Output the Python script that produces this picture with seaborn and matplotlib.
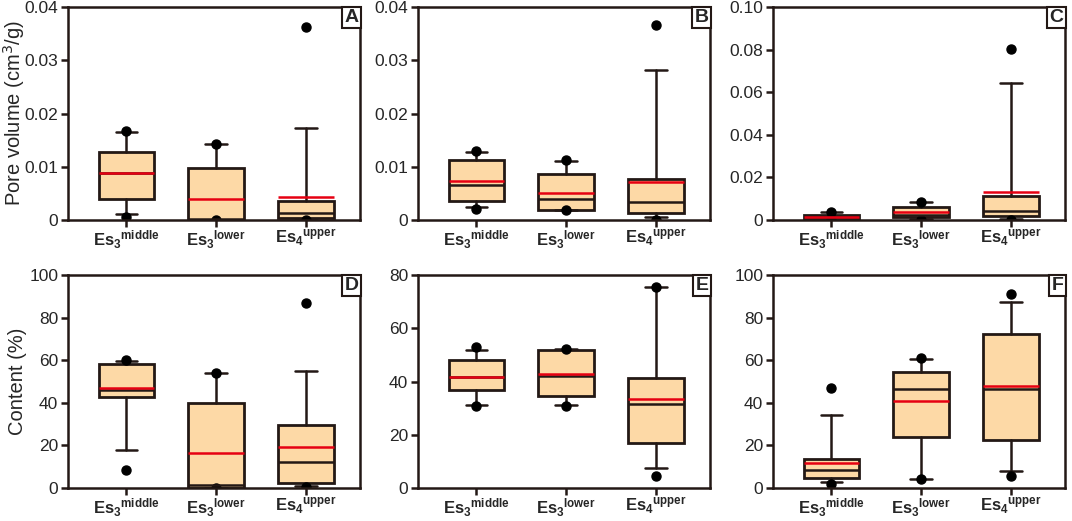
import numpy as np
import matplotlib
matplotlib.use("Agg")
import matplotlib.pyplot as plt
import seaborn as sns

sns.set_style("ticks")
plt.rcParams['font.family'] = ['Liberation Sans', 'DejaVu Sans']

stages = [r"$\mathregular{Es_3{}^{middle}}$",
          r"$\mathregular{Es_3{}^{lower}}$",
          r"$\mathregular{Es_4{}^{upper}}$"]
panels = ["A", "B", "C", "D", "E", "F"]

# box statistics, one row per panel (A..F), one value per stage
q1_vals = [[0.0040, 0.0000, 0.0003],
           [0.0035, 0.0019, 0.0014],
           [0.0005, 0.0012, 0.0019],
           [42.9, 0.0, 2.5],
           [36.7, 34.5, 16.8],
           [4.5, 24.0, 22.4]]
med_vals = [[0.0089, 0.0001, 0.0014],
            [0.0066, 0.0040, 0.0033],
            [0.0012, 0.0025, 0.0041],
            [45.9, 1.2, 12.2],
            [41.8, 41.9, 31.5],
            [8.5, 46.4, 46.4]]
q3_vals = [[0.0127, 0.0097, 0.0035],
           [0.0113, 0.0086, 0.0077],
           [0.0024, 0.0061, 0.0114],
           [58.0, 40.0, 29.8],
           [47.9, 51.8, 41.5],
           [13.6, 54.5, 72.3]]
lo_vals = [[0.0011, 0.0000, 0.0000],
           [0.0025, 0.0018, 0.0006],
           [0.0000, 0.0005, 0.0003],
           [18.0, 0.0, 0.8],
           [31.3, 31.3, 7.4],
           [3.0, 4.4, 8.0]]
hi_vals = [[0.0165, 0.0143, 0.0173],
           [0.0128, 0.0110, 0.0282],
           [0.0038, 0.0085, 0.0644],
           [59.7, 54.1, 54.7],
           [51.7, 52.2, 75.6],
           [34.3, 60.7, 87.3]]
mean_vals = [[0.0089, 0.0039, 0.0043],
             [0.0073, 0.0050, 0.0072],
             [0.0016, 0.0036, 0.0130],
             [46.9, 16.6, 19.1],
             [41.8, 42.8, 33.4],
             [11.8, 40.8, 47.8]]
out_vals = [[[0.0168, 0.0006], [0.0143, 0.0000], [0.0363, 0.0000]],
            [[0.0130, 0.0020], [0.0112, 0.0018], [0.0367, 0.0000]],
            [[0.0038, 0.0000], [0.0085, 0.0000], [0.0801, 0.0000]],
            [[60.2, 8.3], [54.1, 0.0], [86.7, 0.5]],
            [[52.9, 30.8], [52.3, 30.7], [75.6, 4.5]],
            [[46.9, 1.7], [60.8, 4.4], [91.1, 5.5]]]

y_max = [0.04, 0.04, 0.10, 100, 80, 100]
y_step = [0.01, 0.01, 0.02, 20, 20, 20]
y_fmt = ["{:g}", "{:g}", "{:.2f}", "{:g}", "{:g}", "{:g}"]
y_titles = ["Pore volume (cm$^3$/g)", None, None, "Content (%)", None, None]

dark = "#231815"
fill = "#FDD9A6"
red = "#E60012"

fig = plt.figure(figsize=(10.72, 5.21), dpi=100)
lefts = [68 / 1072, 418 / 1072, 773 / 1072]
bottoms = [1 - 220 / 521, 1 - 488 / 521]
w, h = 292 / 1072, 213 / 521

for i, name in enumerate(panels):
    ax = fig.add_axes([lefts[i % 3], bottoms[i // 3], w, h])
    stats = []
    for j in range(3):
        stats.append(dict(q1=q1_vals[i][j], med=med_vals[i][j], q3=q3_vals[i][j],
                          whislo=lo_vals[i][j], whishi=hi_vals[i][j],
                          mean=mean_vals[i][j], fliers=out_vals[i][j]))
    ax.bxp(stats, positions=[0, 1, 2], widths=0.62, capwidths=0.24,
           patch_artist=True, showmeans=True, meanline=True,
           boxprops=dict(facecolor=fill, edgecolor=dark, linewidth=2),
           medianprops=dict(color=dark, linewidth=1.8),
           meanprops=dict(color=red, linewidth=1.8, linestyle="-"),
           whiskerprops=dict(color=dark, linewidth=1.8),
           capprops=dict(color=dark, linewidth=1.8),
           flierprops=dict(marker="o", markerfacecolor="black",
                           markeredgecolor="black", markersize=6.5))
    ax.set_xlim(-0.65, 2.6)
    ax.set_ylim(0, y_max[i])
    ticks = np.arange(0, y_max[i] + y_step[i] / 2, y_step[i])
    ax.set_yticks(ticks)
    ax.set_yticklabels(["0"] + [y_fmt[i].format(t) for t in ticks[1:]],
                       fontsize=12.5)
    ax.set_xticks([0, 1, 2])
    ax.set_xticklabels(stages, fontsize=12, fontweight="bold")
    ax.tick_params(axis="both", direction="out", length=5, width=1.8,
                   color=dark, pad=2)
    ax.tick_params(axis="x", pad=1)
    for sp in ax.spines.values():
        sp.set_linewidth(1.8)
        sp.set_color(dark)
    if y_titles[i]:
        ax.set_ylabel(y_titles[i], fontsize=14.5)
        ax.yaxis.set_label_coords(-0.14, 0.5)
    ax.text(0.995, 0.99, name, transform=ax.transAxes, ha="right", va="top",
            fontsize=14, fontweight="bold",
            bbox=dict(boxstyle="square,pad=0.12", facecolor="white",
                      edgecolor=dark, linewidth=1.5))

fig.savefig("out.png", dpi=100)
